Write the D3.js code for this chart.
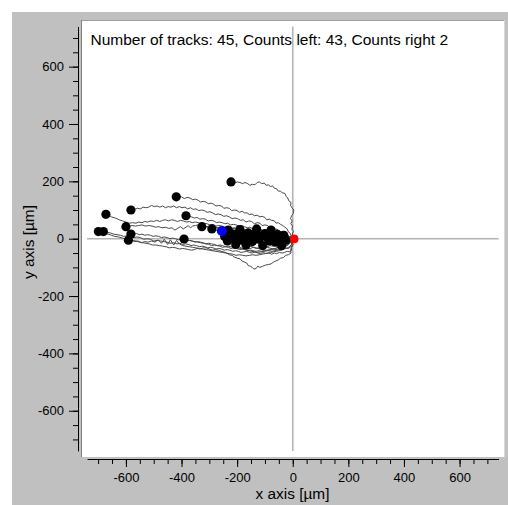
<!DOCTYPE html>
<html>
<head>
<meta charset="utf-8">
<script src="https://cdn.jsdelivr.net/npm/d3@7"></script>
<style>
  html, body { margin: 0; padding: 0; background: #ffffff; }
  svg { display: block; }
  text { font-family: "Liberation Sans", Arial, sans-serif; }
</style>
</head>
<body>
<svg id="chart" width="508" height="505"></svg>
<script>
// ---------------- data ----------------
const xTickLabels = [-600, -400, -200, 0, 200, 400, 600];
const yTickLabels = [-600, -400, -200, 0, 200, 400, 600];
const minorTicks = [-700,-650,-600,-550,-500,-450,-400,-350,-300,-250,-200,-150,-100,-50,0,50,100,150,200,250,300,350,400,450,500,550,600,650,700];
const axisDomain = [-740, 740];
const centerOfMass = [-255, 27];

// each track starts at the origin; values in µm
const longTracks = [
  [[0,0],[4,8],[-2,16],[3,26],[-3,32],[-1,44],[-7,52],[-2,62],[-8,70],[-4,80],[2,88],[4,100],[-3,108],[-8,116],[-6,126],[-14,132],[-18,142],[-24,148],[-28,158],[-38,160],[-44,166],[-52,166],[-58,174],[-66,176],[-72,184],[-80,182],[-88,188],[-96,186],[-102,194],[-112,192],[-120,198],[-128,196],[-136,188],[-146,190],[-154,186],[-162,192],[-172,196],[-180,192],[-190,196],[-200,198],[-210,194],[-222,198]],
  [[0,0],[-6,8],[-8,18],[-16,24],[-20,34],[-28,40],[-36,46],[-44,50],[-52,56],[-60,54],[-66,62],[-76,64],[-84,68],[-94,66],[-100,74],[-110,78],[-118,76],[-128,82],[-138,80],[-146,86],[-156,84],[-164,90],[-174,90],[-182,96],[-192,92],[-200,98],[-210,100],[-220,98],[-228,106],[-238,108],[-248,106],[-256,114],[-266,116],[-276,114],[-284,120],[-294,124],[-304,122],[-312,128],[-322,130],[-332,128],[-340,134],[-350,138],[-360,136],[-370,142],[-380,144],[-390,140],[-400,146],[-410,148],[-419,146]],
  [[0,0],[-6,8],[-14,6],[-20,14],[-30,18],[-36,26],[-46,24],[-54,32],[-64,34],[-72,40],[-82,38],[-90,46],[-100,48],[-110,46],[-118,54],[-128,56],[-138,52],[-148,60],[-158,62],[-168,58],[-178,66],[-188,64],[-198,70],[-208,72],[-218,70],[-228,76],[-238,80],[-248,78],[-258,84],[-268,86],[-278,84],[-288,90],[-298,94],[-308,92],[-318,98],[-328,100],[-338,98],[-348,104],[-358,102],[-368,108],[-378,104],[-388,110],[-398,108],[-408,112],[-418,108],[-428,114],[-438,110],[-448,112],[-458,108],[-468,114],[-478,110],[-488,114],[-498,112],[-508,116],[-518,110],[-528,108],[-538,110],[-548,104],[-558,106],[-570,102],[-582,100]],
  [[0,0],[-8,4],[-14,10],[-24,8],[-32,14],[-42,16],[-50,14],[-60,20],[-70,22],[-78,20],[-88,26],[-98,28],[-106,26],[-116,32],[-126,34],[-136,30],[-146,36],[-156,40],[-164,38],[-174,42],[-184,46],[-194,44],[-204,48],[-214,50],[-224,48],[-234,54],[-244,52],[-254,56],[-264,58],[-274,56],[-284,62],[-294,64],[-304,62],[-314,68],[-324,70],[-334,68],[-344,74],[-354,72],[-364,76],[-374,78],[-384,80]],
  [[0,0],[-10,6],[-20,4],[-30,10],[-42,12],[-52,10],[-62,16],[-74,18],[-84,14],[-94,20],[-106,22],[-116,20],[-126,26],[-138,24],[-148,28],[-158,30],[-170,28],[-180,34],[-190,32],[-202,36],[-212,38],[-222,36],[-234,42],[-244,40],[-254,44],[-266,46],[-276,44],[-286,50],[-298,48],[-308,52],[-318,54],[-330,52],[-340,56],[-350,58],[-362,56],[-372,60],[-382,58],[-394,62],[-404,64],[-414,60],[-426,64],[-436,66],[-446,62],[-458,66],[-468,64],[-478,60],[-490,64],[-500,60],[-510,62],[-522,58],[-532,60],[-542,56],[-554,58],[-564,54],[-576,56],[-588,54],[-600,58],[-612,62],[-624,66],[-638,72],[-652,76],[-662,82],[-672,85]],
  [[0,0],[-4,-10],[2,-20],[-4,-30],[-8,-40],[-6,-50],[-16,-56],[-26,-58],[-34,-66],[-44,-68],[-52,-74],[-62,-78],[-70,-82],[-78,-88],[-88,-90],[-98,-92],[-108,-96],[-118,-100],[-126,-96],[-132,-104],[-140,-106],[-146,-100],[-152,-96],[-160,-94],[-164,-86],[-172,-82],[-182,-78],[-190,-70],[-200,-68],[-210,-64],[-218,-58],[-228,-56],[-238,-50],[-248,-46],[-258,-44],[-268,-40],[-278,-38],[-290,-40],[-300,-36],[-310,-32],[-322,-32],[-334,-36],[-344,-34],[-354,-38],[-364,-40],[-374,-38],[-384,-36],[-396,-34],[-408,-36],[-420,-32],[-432,-30],[-444,-32],[-456,-28],[-468,-26],[-480,-24],[-492,-22],[-504,-22],[-516,-18],[-528,-16],[-540,-14],[-552,-12],[-564,-8],[-576,-6],[-588,-4],[-600,-2],[-612,2],[-626,6],[-640,8],[-652,12],[-664,16],[-676,18],[-688,22],[-699,25]],
  [[0,0],[-4,-10],[0,-20],[-6,-30],[-4,-40],[-10,-46],[-20,-44],[-30,-48],[-38,-50],[-48,-48],[-58,-52],[-66,-50],[-76,-54],[-86,-50],[-96,-52],[-106,-48],[-116,-52],[-126,-50],[-136,-46],[-146,-50],[-156,-48],[-166,-44],[-176,-46],[-186,-48],[-196,-44],[-206,-42],[-216,-44],[-226,-40],[-236,-38],[-246,-40],[-256,-36],[-266,-34],[-276,-36],[-286,-32],[-296,-30],[-306,-32],[-316,-28],[-326,-26],[-336,-28],[-346,-24],[-356,-22],[-366,-24],[-376,-20],[-386,-18],[-396,-20],[-406,-16],[-416,-18],[-428,-14],[-441,-16],[-452,-12],[-464,-10],[-476,-8],[-488,-6],[-500,-8],[-512,-2],[-524,0],[-536,-2],[-548,4],[-560,6],[-572,4],[-584,8],[-596,10],[-608,8],[-620,12],[-632,14],[-644,16],[-656,20],[-668,22],[-681,25]],
  [[0,0],[-10,6],[-20,8],[-30,6],[-40,12],[-50,14],[-60,12],[-70,18],[-80,20],[-90,18],[-100,22],[-110,24],[-120,22],[-130,26],[-140,28],[-150,26],[-160,30],[-170,32],[-180,30],[-190,34],[-200,32],[-210,36],[-220,34],[-230,38],[-240,36],[-250,38],[-260,40],[-270,38],[-280,42],[-290,40],[-300,44],[-310,42],[-320,46],[-330,44],[-340,48],[-350,46],[-360,44],[-368,38],[-376,46],[-384,40],[-394,34],[-404,42],[-414,36],[-424,30],[-434,38],[-446,36],[-458,40],[-470,38],[-482,42],[-494,40],[-506,44],[-518,46],[-530,44],[-542,48],[-554,46],[-566,44],[-578,46],[-590,42],[-600,42]],
  [[0,0],[-8,-6],[-16,-10],[-26,-12],[-34,-16],[-44,-20],[-52,-18],[-62,-24],[-72,-26],[-82,-24],[-92,-28],[-102,-30],[-112,-28],[-122,-32],[-132,-34],[-142,-30],[-152,-34],[-162,-36],[-172,-32],[-182,-36],[-192,-34],[-202,-30],[-212,-32],[-222,-28],[-232,-26],[-242,-28],[-252,-24],[-262,-22],[-272,-24],[-282,-20],[-292,-18],[-302,-16],[-312,-18],[-322,-14],[-332,-12],[-342,-10],[-352,-12],[-362,-8],[-372,-6],[-382,-8],[-392,-4],[-402,-2],[-412,-4],[-422,0],[-432,2],[-442,0],[-452,4],[-462,6],[-472,4],[-482,8],[-492,10],[-502,8],[-512,12],[-522,14],[-532,12],[-542,16],[-552,14],[-562,18],[-572,16],[-582,16]],
  [[0,0],[-6,-10],[-4,-20],[-10,-28],[-20,-32],[-30,-36],[-40,-40],[-50,-42],[-60,-44],[-70,-46],[-80,-48],[-90,-50],[-100,-52],[-110,-54],[-120,-56],[-132,-58],[-144,-56],[-156,-58],[-168,-60],[-180,-58],[-192,-56],[-204,-58],[-216,-54],[-228,-52],[-240,-50],[-252,-48],[-264,-46],[-276,-44],[-288,-42],[-300,-40],[-312,-38],[-324,-36],[-336,-34],[-348,-32],[-360,-30],[-372,-28],[-384,-26],[-396,-24],[-408,-18],[-418,-6],[-428,-22],[-440,-4],[-450,-20],[-462,-2],[-472,-16],[-484,-4],[-496,-12],[-508,-8],[-520,-12],[-532,-10],[-544,-14],[-556,-8],[-568,-10],[-580,-6],[-591,-5]],
  [[0,0],[-6,-8],[-14,-14],[-22,-20],[-32,-24],[-42,-28],[-52,-30],[-62,-34],[-72,-36],[-82,-38],[-92,-40],[-102,-42],[-112,-44],[-122,-42],[-132,-44],[-142,-42],[-152,-40],[-162,-42],[-172,-38],[-182,-36],[-192,-38],[-202,-34],[-212,-32],[-222,-34],[-232,-30],[-242,-28],[-252,-30],[-262,-26],[-272,-24],[-282,-22],[-292,-24],[-302,-20],[-312,-18],[-322,-16],[-332,-14],[-342,-12],[-352,-10],[-362,-8],[-372,-6],[-382,-4],[-391,-1]],
  [[0,0],[-10,4],[-20,2],[-30,6],[-40,8],[-50,6],[-60,10],[-70,12],[-80,10],[-90,14],[-100,16],[-110,14],[-120,18],[-130,20],[-140,18],[-150,22],[-160,24],[-170,22],[-180,26],[-190,28],[-200,26],[-210,30],[-220,32],[-230,30],[-240,34],[-250,36],[-260,34],[-270,38],[-280,38],[-290,40],[-300,38],[-310,42],[-318,40],[-327,42]],
  [[0,0],[-10,-4],[-20,-2],[-30,-6],[-40,-4],[-50,-2],[-60,-4],[-70,0],[-80,2],[-90,0],[-100,4],[-110,6],[-120,4],[-130,8],[-140,10],[-150,8],[-160,12],[-170,14],[-180,12],[-190,16],[-200,18],[-210,16],[-220,20],[-230,22],[-240,22],[-250,26],[-260,28],[-270,28],[-280,32],[-291,34]]
];

const shortTracks = [
  [[0,0],[-30,4],[-70,-2],[-110,6],[-150,2],[-190,10],[-225,8],[-245,8]],
  [[0,0],[-25,-6],[-60,-10],[-100,-4],[-140,-12],[-180,-6],[-210,-10],[-235,-8]],
  [[0,0],[-35,8],[-75,12],[-120,16],[-160,14],[-200,24],[-232,30]],
  [[0,0],[-40,-4],[-85,2],[-130,-6],[-175,4],[-220,0]],
  [[0,0],[-30,6],[-80,10],[-120,8],[-170,14],[-212,15]],
  [[0,0],[-20,-14],[-50,-30],[-90,-42],[-130,-48],[-165,-40],[-190,-30],[-205,-20]],
  [[0,0],[-45,2],[-90,6],[-140,4],[-198,8]],
  [[0,0],[-40,10],[-90,16],[-140,24],[-190,32]],
  [[0,0],[-50,-8],[-100,-2],[-145,-8],[-182,-5]],
  [[0,0],[-45,8],[-95,6],[-135,14],[-175,12]],
  [[0,0],[-15,-20],[-40,-36],[-75,-44],[-110,-38],[-140,-30],[-168,-22]],
  [[0,0],[-40,12],[-80,16],[-120,14],[-160,20]],
  [[0,0],[-40,-4],[-80,4],[-120,-2],[-152,2]],
  [[0,0],[-35,-8],[-75,-14],[-110,-6],[-145,-10]],
  [[0,0],[-30,6],[-70,12],[-105,10],[-138,15]],
  [[0,0],[-30,14],[-65,20],[-100,28],[-130,34]],
  [[0,0],[-40,2],[-80,-6],[-122,-2]],
  [[0,0],[-30,6],[-70,4],[-115,10]],
  [[0,0],[-10,-16],[-30,-30],[-60,-38],[-85,-32],[-108,-24]],
  [[0,0],[-30,10],[-65,14],[-100,18]],
  [[0,0],[-30,-2],[-60,6],[-92,5]],
  [[0,0],[-25,-6],[-55,-4],[-85,-8]],
  [[0,0],[-25,12],[-50,20],[-78,30]],
  [[0,0],[-25,4],[-45,8],[-70,10]],
  [[0,0],[-20,-8],[-40,-14],[-62,-12]],
  [[0,0],[-20,8],[-38,12],[-55,15]],
  [[0,0],[-15,2],[-30,-2],[-48,0]],
  [[0,0],[-5,-20],[-15,-35],[-28,-32],[-40,-24]],
  [[0,0],[-12,6],[-22,10],[-32,12]],
  [[0,0],[-10,-2],[-25,-5]],
  [[0,0],[4,-6],[6,-2]],
  [[0,0],[3,4],[5,1]]
];

const tracks = longTracks.concat(shortTracks);

// ---------------- drawing ----------------
const svg = d3.select("#chart");
const x = d3.scaleLinear().domain(axisDomain).range([87, 498.5]);
const y = d3.scaleLinear().domain(axisDomain).range([450.9, 26.5]);

// frame
svg.append("rect").attr("x", 12).attr("y", 12).attr("width", 496).attr("height", 493).attr("fill", "#c0c0c0");
svg.append("rect").attr("x", 82).attr("y", 21).attr("width", 422).attr("height", 436).attr("fill", "#ffffff");
svg.append("line").attr("x1", 81).attr("x2", 505).attr("y1", 20.5).attr("y2", 20.5).attr("stroke", "#a0a0a0");
svg.append("line").attr("x1", 81.5).attr("x2", 81.5).attr("y1", 20).attr("y2", 457).attr("stroke", "#808080");
svg.append("line").attr("x1", 504.5).attr("x2", 504.5).attr("y1", 20).attr("y2", 457).attr("stroke", "#d8d8d8");

// crosshair
svg.append("line").attr("x1", x(0)).attr("x2", x(0)).attr("y1", y(axisDomain[1])).attr("y2", y(axisDomain[0]))
  .attr("stroke", "#b4b4b4").attr("stroke-width", 1.6);
svg.append("line").attr("x1", x(axisDomain[0])).attr("x2", x(axisDomain[1])).attr("y1", y(0)).attr("y2", y(0))
  .attr("stroke", "#b4b4b4").attr("stroke-width", 1.6);

// axes
const fmt = d => String(d);
const xMinor = svg.append("g").attr("transform", "translate(0,459)")
  .call(d3.axisBottom(x).tickValues(minorTicks).tickSize(5).tickSizeOuter(0).tickFormat(""));
const xMajor = svg.append("g").attr("transform", "translate(0,459)")
  .call(d3.axisBottom(x).tickValues(xTickLabels).tickSize(8).tickSizeOuter(0).tickPadding(6).tickFormat(fmt));
const yMinor = svg.append("g").attr("transform", "translate(78,0)")
  .call(d3.axisLeft(y).tickValues(minorTicks).tickSize(5).tickSizeOuter(0).tickFormat(""));
const yMajor = svg.append("g").attr("transform", "translate(78,0)")
  .call(d3.axisLeft(y).tickValues(yTickLabels).tickSize(9).tickSizeOuter(0).tickPadding(5).tickFormat(fmt));
[xMinor, xMajor, yMinor, yMajor].forEach(g => {
  g.selectAll("text").attr("font-size", "13px").attr("fill", "#000").attr("font-family", "'Liberation Sans', Arial, sans-serif");
  g.selectAll("line").attr("stroke", "#000");
  g.select(".domain").attr("stroke", "#000");
});
xMinor.select(".domain").remove();
yMinor.select(".domain").remove();
yMajor.selectAll("text").attr("text-anchor", "end");

// axis titles
svg.append("text").attr("x", 292.5).attr("y", 499).attr("text-anchor", "middle")
  .attr("font-size", "15.4px").attr("fill", "#000").text("x axis [µm]");
svg.append("text").attr("transform", "translate(34,242) rotate(-90)").attr("text-anchor", "middle")
  .attr("font-size", "15.4px").attr("fill", "#000").text("y axis [µm]");

// tracks
const line = d3.line().x(d => x(d[0])).y(d => y(d[1]));
svg.append("g").selectAll("path").data(tracks).join("path")
  .attr("d", line).attr("fill", "none").attr("stroke", "#4a4a4a").attr("stroke-width", 1);

const ends = tracks.map(t => t[t.length - 1]);
const leftEnds = ends.filter(e => e[0] < 0);
const rightEnds = ends.filter(e => e[0] >= 0);

svg.append("g").selectAll("circle").data(leftEnds).join("circle")
  .attr("cx", d => x(d[0])).attr("cy", d => y(d[1])).attr("r", 4.6).attr("fill", "#000");
svg.append("circle").attr("cx", x(centerOfMass[0])).attr("cy", y(centerOfMass[1])).attr("r", 5).attr("fill", "#0000ff");
svg.append("g").selectAll("circle").data(rightEnds).join("circle")
  .attr("cx", d => x(d[0])).attr("cy", d => y(d[1])).attr("r", 4).attr("fill", "#ff0000");

// title
svg.append("text").attr("x", 90.5).attr("y", 44.5).attr("font-size", "15.5px").attr("fill", "#000")
  .text(`Number of tracks: ${tracks.length}, Counts left: ${leftEnds.length}, Counts right ${rightEnds.length}`);
</script>
</body>
</html>
